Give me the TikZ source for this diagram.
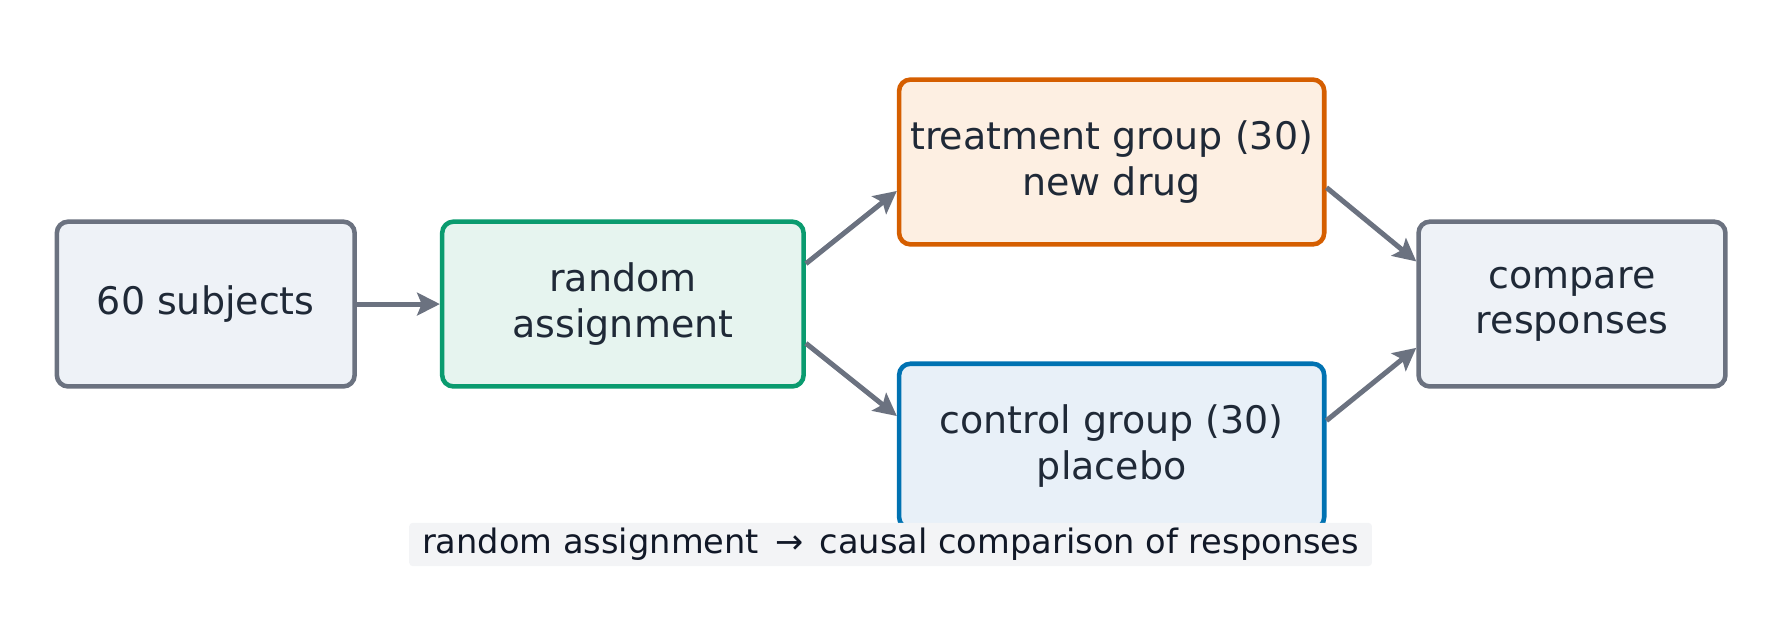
\documentclass[tikz,border=0pt]{standalone}
\usepackage{fontspec}
\setmainfont{DejaVu Sans}
\usetikzlibrary{arrows.meta}
\definecolor{gr}{HTML}{6B7280}
\definecolor{txt}{HTML}{1F2937}
\definecolor{f1}{HTML}{EEF2F7}\definecolor{f2}{HTML}{E6F4EF}\definecolor{b2}{HTML}{0A9B6F}
\definecolor{f3}{HTML}{FDEFE2}\definecolor{b3}{HTML}{D55E00}\definecolor{f4}{HTML}{E8F0F8}\definecolor{b4}{HTML}{0072B2}
\definecolor{capf}{HTML}{F3F4F6}\definecolor{capt}{HTML}{111827}
\begin{document}
\begin{tikzpicture}[x=0.5pt,y=-0.5pt,
 box/.style={rounded corners=5pt,line width=2pt,align=center,text=txt,font=\fontsize{16.7}{20}\selectfont},
 arr/.style={draw=gr,line width=2.2pt,-{Stealth[length=10pt,width=10pt,inset=2pt]}}]
\useasboundingbox (0,0) rectangle (1566,542);
\node[box,fill=f1,draw=gr,minimum width=131pt,minimum height=72.5pt] (subj) at (181,267.5) {60 subjects};
\node[box,fill=f2,draw=b2,minimum width=159pt,minimum height=72.5pt] (rand) at (548,267.5) {random\\assignment};
\node[box,fill=f3,draw=b3,minimum width=187pt,minimum height=72.5pt] (treat) at (978,142.5) {treatment group (30)\\new drug};
\node[box,fill=f4,draw=b4,minimum width=187pt,minimum height=72.5pt] (ctrl) at (978,392.5) {control group (30)\\placebo};
\node[box,fill=f1,draw=gr,minimum width=135pt,minimum height=72.5pt] (comp) at (1383,267.5) {compare\\responses};
\draw[arr] (subj.east) -- (rand.west);
\draw[arr] (rand.east |- 0,232) -- (treat.west |- 0,168);
\draw[arr] (rand.east |- 0,302) -- (ctrl.west |- 0,366);
\draw[arr] (treat.east |- 0,165) -- (comp.west |- 0,230);
\draw[arr] (ctrl.east |- 0,370) -- (comp.west |- 0,306);
\node[fill=capf,rounded corners=1.5pt,text=capt,font=\fontsize{14.8}{17}\selectfont,minimum width=423.5pt,minimum height=19pt,inner sep=0pt] (cap) at (783.5,479) {random assignment \,→\, causal comparison of responses};
\end{tikzpicture}
\end{document}
